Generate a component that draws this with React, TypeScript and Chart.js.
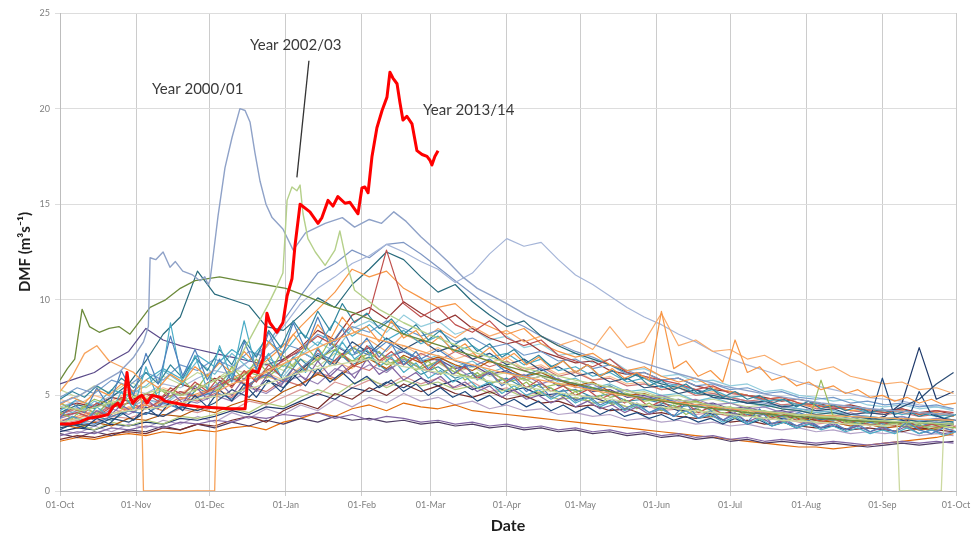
import { useEffect, useRef } from "react";
import { Chart, registerables } from "chart.js";

Chart.register(...registerables);

// ---- axis ticks ----
const MONTH_DAYS = [0, 31, 61, 92, 123, 151, 182, 212, 243, 273, 304, 335, 365];
const MONTH_LABELS = ["01-Oct", "01-Nov", "01-Dec", "01-Jan", "01-Feb", "01-Mar", "01-Apr", "01-May", "01-Jun", "01-Jul", "01-Aug", "01-Sep", "01-Oct"];
const Y_TICKS = [0, 5, 10, 15, 20, 25];

// ---- common sampling days (days since 01-Oct) ----
const WEEK_DAYS = [0, 7, 14, 21, 28, 35, 42, 49, 56, 63, 70, 77, 84, 91, 98, 105, 112, 119, 126, 133, 140, 147, 154, 161, 168, 175, 182, 189, 196, 203, 210, 217, 224, 231, 238, 245, 252, 259, 266, 273, 280, 287, 294, 301, 308, 315, 322, 329, 336, 343, 350, 357, 364];
const FIVE_DAYS = [0, 5, 10, 15, 20, 25, 30, 35, 40, 45, 50, 55, 60, 65, 70, 75, 80, 85, 90, 95, 100, 105, 110, 115, 120, 125, 130, 135, 140, 145, 150, 155, 160, 165, 170, 175, 180, 185, 190, 195, 200, 205, 210, 215, 220, 225, 230, 235, 240, 245, 250, 255, 260, 265, 270, 275, 280, 285, 290, 295, 300, 305, 310, 315, 320, 325, 330, 335, 340, 345, 350, 355, 360, 365];

// ---- highlighted years ----
const RED_DAYS = [0, 4, 8, 11.4, 16.3, 19.6, 21.6, 23.6, 24.4, 26.1, 27.3, 28.5, 29.7, 31.8, 33.4, 35.4, 37.5, 40.7, 42.8, 46.8, 50.9, 57, 63.1, 69.2, 75.4, 76.6, 78.6, 80.7, 82.7, 84.3, 85.5, 88.4, 90.8, 92.5, 94.5, 95.7, 97.8, 101.8, 105.1, 106.7, 109.2, 111.2, 113.2, 116.1, 118.1, 121.4, 123, 124.2, 125.5, 127.1, 129.1, 131.2, 133.2, 134.4, 135.6, 137.3, 138.5, 139.7, 141.3, 143.4, 145.4, 147.5, 149.5, 150.7, 151.5, 152.7, 154];
const RED_VALUES = [3.5, 3.5, 3.6, 3.8, 3.9, 4.0, 4.4, 4.6, 4.4, 4.8, 6.2, 4.9, 4.6, 4.9, 5.0, 4.6, 5.0, 4.9, 4.7, 4.6, 4.5, 4.4, 4.35, 4.3, 4.3, 6.0, 6.3, 6.2, 6.9, 9.3, 8.8, 8.3, 8.8, 10.2, 11.1, 12.8, 15.0, 14.6, 14.0, 14.3, 15.2, 14.9, 15.4, 15.05, 15.1, 14.5, 15.85, 15.9, 15.6, 17.5, 19.0, 19.9, 20.6, 21.9, 21.6, 21.3, 20.3, 19.4, 19.6, 19.2, 17.8, 17.6, 17.5, 17.3, 17.05, 17.5, 17.8];

const Y2000_DAYS = [0, 8, 16, 24, 30, 34, 36, 36.7, 39, 42, 44.8, 47, 50, 54, 57, 59, 60.3, 61.1, 62.3, 64.4, 67.2, 70.1, 73.3, 75.4, 77.4, 79.4, 81.5, 83.9, 86.4, 90.8, 95, 100, 108, 115, 120, 126, 131, 136, 141, 147, 153, 158, 164, 170, 176, 182, 190, 200, 215, 230, 250, 270, 290, 310, 330, 350, 364];
const Y2000_VALUES = [4.6, 5.0, 5.6, 6.2, 7.0, 7.8, 8.6, 12.2, 12.1, 12.5, 11.7, 12.0, 11.5, 11.3, 11.0, 11.2, 10.8, 11.0, 12.2, 14.4, 16.9, 18.5, 20.0, 19.9, 19.3, 17.7, 16.2, 15.0, 14.3, 13.7, 12.6, 13.5, 14.0, 14.3, 13.8, 14.2, 14.0, 14.6, 14.1, 13.3, 12.6, 12.0, 11.2, 10.6, 10.2, 9.8, 9.2, 8.6, 7.8, 7.0, 6.2, 5.5, 5.0, 4.6, 4.3, 4.1, 4.0];

const Y2002_DAYS = [0, 10, 20, 30, 40, 50, 60, 70, 75, 80, 85, 88, 90.8, 92.5, 94.5, 96.5, 97.8, 99, 101, 104, 108, 112, 114, 117, 120, 130, 140, 150, 170, 190, 210, 240, 270, 300, 330, 364];
const Y2002_VALUES = [4.4, 4.2, 4.6, 4.9, 5.3, 5.0, 5.6, 6.2, 7.4, 8.6, 9.8, 10.6, 11.4, 15.2, 15.9, 15.7, 16.0, 14.5, 13.2, 12.5, 11.8, 12.6, 13.6, 11.8, 10.5, 9.5, 8.8, 8.2, 7.2, 6.4, 5.8, 5.0, 4.4, 4.0, 3.7, 3.5];

const OLIVE_DAYS = [0, 3, 6, 9, 12, 16, 20, 24, 28.5, 32.6, 36.7, 43, 49, 55, 65, 73, 83, 92, 100, 110, 120, 130, 140, 150, 165, 180, 200, 220, 240, 260, 280, 300, 320, 340, 364];
const OLIVE_VALUES = [5.8, 6.4, 6.9, 9.5, 8.6, 8.3, 8.5, 8.6, 8.2, 8.9, 9.6, 10.0, 10.6, 11.0, 11.2, 11.0, 10.8, 10.6, 10.2, 9.7, 9.3, 8.8, 8.2, 7.8, 7.2, 6.6, 5.9, 5.3, 4.8, 4.4, 4.1, 3.9, 3.7, 3.6, 3.5];

const ORANGE0_DAYS = [0, 5, 10, 15, 20, 25, 30, 33, 34, 63, 64, 70, 80, 90, 100, 110, 120, 130, 140, 150, 165, 180, 200, 220, 240, 260, 280, 300, 320, 340, 364];
const ORANGE0_VALUES = [5.2, 6.0, 7.2, 7.6, 6.8, 6.5, 6.2, 5.8, 0, 0, 5.2, 5.6, 6.0, 6.6, 7.2, 7.8, 8.3, 7.9, 7.6, 7.2, 6.7, 6.2, 5.7, 5.2, 4.8, 4.5, 4.2, 4.0, 3.9, 3.8, 3.7];

const KHAKI0_DAYS = [0, 14, 28, 42, 56, 70, 84, 98, 112, 126, 140, 154, 168, 182, 196, 210, 224, 238, 252, 266, 280, 294, 308, 322, 336, 341, 342, 359, 360, 364];
const KHAKI0_VALUES = [3.6, 3.9, 4.2, 4.4, 4.8, 5.1, 5.6, 6.2, 6.6, 6.9, 6.5, 6.2, 5.9, 5.6, 5.3, 5.0, 4.8, 4.5, 4.3, 4.1, 3.9, 3.7, 3.6, 3.5, 3.4, 3.5, 0, 0, 3.3, 3.4];

// ---- other years, weekly values ----
const bg01 = [3.4, 3.6, 3.5, 3.9, 4.2, 4.0, 4.6, 4.3, 4.9, 5.2, 4.8, 5.6, 6.1, 5.7, 6.4, 7.2, 6.8, 7.5, 7.1, 7.8, 7.3, 6.9, 7.4, 6.8, 6.5, 6.9, 6.2, 6.0, 6.4, 5.8, 5.6, 5.3, 5.5, 5.0, 4.8, 4.9, 4.6, 4.4, 4.5, 4.2, 4.3, 4.0, 3.9, 4.1, 3.8, 3.7, 3.9, 3.6, 3.5, 3.7, 3.4, 3.6, 3.5];
const bg02 = [3.9, 4.1, 3.8, 4.4, 4.6, 4.3, 4.8, 5.2, 4.9, 5.4, 5.9, 5.5, 6.3, 6.8, 7.4, 8.1, 7.6, 8.8, 9.3, 12.6, 9.8, 9.1, 9.6, 8.7, 8.3, 8.9, 8.0, 7.6, 7.9, 7.1, 6.8, 6.5, 6.9, 6.2, 6.0, 5.8, 5.6, 5.3, 5.5, 5.1, 5.0, 4.8, 4.9, 4.6, 4.5, 4.3, 4.4, 4.2, 4.1, 4.3, 4.0, 4.2, 4.1];
const bg03 = [4.6, 4.2, 4.8, 4.5, 5.1, 4.8, 5.3, 5.0, 5.6, 5.2, 5.8, 6.2, 5.9, 6.6, 6.2, 6.9, 7.4, 6.8, 7.2, 6.6, 7.0, 6.4, 6.8, 6.2, 5.9, 6.3, 5.7, 5.9, 5.4, 5.6, 5.2, 5.4, 4.9, 5.1, 4.7, 4.8, 4.5, 4.7, 4.3, 4.4, 4.1, 4.2, 3.9, 4.0, 3.8, 3.9, 3.6, 3.7, 3.5, 3.6, 3.4, 3.5, 3.3];
const bg04 = [2.9, 3.1, 3.0, 3.3, 3.2, 3.4, 3.3, 3.6, 3.5, 3.7, 3.6, 3.9, 3.8, 4.0, 3.9, 4.1, 3.8, 4.0, 3.7, 3.9, 3.8, 3.6, 3.7, 3.5, 3.6, 3.4, 3.5, 3.3, 3.4, 3.2, 3.3, 3.1, 3.2, 3.0, 3.1, 2.9, 3.0, 2.8, 2.9, 2.7, 2.8, 2.6, 2.7, 2.6, 2.5, 2.6, 2.5, 2.4, 2.5, 2.6, 2.5, 2.6, 2.5];
const bg05 = [4.2, 4.8, 4.4, 5.3, 5.0, 5.8, 6.4, 5.9, 7.1, 6.5, 7.4, 6.8, 7.9, 7.2, 8.3, 7.6, 8.9, 8.1, 8.7, 7.9, 8.4, 7.7, 8.1, 7.3, 7.6, 7.0, 7.2, 6.6, 6.9, 6.3, 6.5, 6.0, 6.2, 5.7, 5.9, 5.4, 5.6, 5.1, 5.3, 4.9, 5.0, 4.7, 4.8, 4.5, 4.6, 4.3, 4.4, 4.1, 4.2, 4.0, 4.1, 3.9, 4.0];
const bg06 = [3.6, 3.8, 4.1, 3.9, 4.3, 4.5, 4.2, 4.8, 5.1, 5.4, 5.9, 6.3, 6.8, 7.6, 8.6, 9.5, 10.4, 11.6, 11.2, 11.5, 10.6, 10.1, 9.6, 9.8, 9.0, 8.6, 8.2, 8.5, 7.7, 7.3, 7.0, 7.2, 6.6, 6.3, 6.5, 6.0, 5.7, 5.9, 5.4, 5.2, 5.0, 4.8, 4.9, 4.6, 4.4, 4.5, 4.2, 4.3, 4.1, 4.2, 4.0, 4.1, 3.9];
const bg07 = [3.3, 3.5, 3.4, 3.8, 3.6, 4.1, 3.9, 4.4, 4.2, 4.6, 5.3, 4.9, 5.8, 5.4, 6.3, 7.1, 6.6, 7.8, 7.2, 8.0, 7.4, 7.9, 7.3, 7.6, 6.9, 7.2, 6.6, 6.9, 6.3, 6.5, 6.0, 6.2, 5.7, 5.9, 5.4, 5.5, 5.1, 5.3, 4.9, 4.8, 4.6, 4.7, 4.4, 4.5, 4.2, 4.3, 4.0, 4.1, 4.0, 4.4, 4.8, 5.6, 6.2];
const bg08 = [2.7, 2.9, 2.8, 3.0, 3.1, 3.0, 3.3, 3.2, 3.5, 3.4, 3.7, 3.9, 3.6, 4.2, 4.6, 4.3, 5.1, 4.8, 5.4, 5.0, 5.6, 5.2, 5.5, 5.1, 4.9, 5.2, 4.8, 5.0, 4.6, 4.7, 4.4, 4.5, 4.2, 4.3, 4.0, 4.1, 3.9, 3.8, 3.9, 3.6, 3.7, 3.5, 3.6, 3.4, 3.3, 3.4, 3.2, 3.3, 3.2, 3.1, 3.3, 3.2, 3.1];
const bg09 = [3.0, 2.8, 3.1, 2.9, 3.2, 3.1, 3.4, 3.2, 3.5, 3.3, 3.6, 3.4, 3.7, 3.5, 3.8, 3.6, 3.9, 3.7, 3.8, 3.6, 3.7, 3.5, 3.6, 3.4, 3.5, 3.3, 3.4, 3.2, 3.3, 3.1, 3.2, 3.0, 3.1, 2.9, 3.0, 2.8, 2.9, 2.7, 2.8, 2.6, 2.7, 2.5, 2.6, 2.5, 2.4, 2.5, 2.4, 2.3, 2.4, 2.5, 2.4, 2.5, 2.6];
const bg10 = [4.1, 4.5, 4.3, 4.9, 5.6, 6.8, 8.2, 9.1, 11.5, 10.3, 10.0, 9.7, 8.6, 8.4, 9.2, 10.1, 9.6, 10.8, 11.6, 12.5, 12.1, 11.2, 10.4, 10.8, 9.9, 9.2, 8.6, 8.9, 8.1, 7.6, 7.2, 6.9, 6.6, 6.2, 5.9, 5.6, 5.4, 5.1, 5.0, 4.8, 4.6, 4.5, 4.3, 4.2, 4.0, 4.1, 3.9, 3.8, 3.7, 3.8, 3.6, 3.7, 3.6];
const bg11 = [3.5, 3.3, 3.6, 3.4, 3.8, 3.7, 4.0, 3.9, 4.3, 4.1, 4.5, 4.8, 4.6, 5.2, 5.6, 6.1, 5.8, 6.5, 6.9, 6.4, 7.1, 6.7, 7.0, 6.6, 6.3, 6.8, 6.4, 6.0, 6.2, 5.8, 5.5, 5.7, 5.2, 5.0, 5.1, 4.8, 4.6, 4.7, 4.4, 4.2, 4.3, 4.0, 4.1, 3.8, 3.7, 3.6, 3.4, 3.5, 3.3, 3.4, 3.2, 3.3, 3.4];
const bg12 = [4.9, 5.4, 5.1, 5.8, 5.5, 6.2, 5.8, 6.6, 6.3, 6.9, 6.5, 7.3, 7.0, 7.7, 7.4, 8.2, 7.8, 8.6, 8.3, 8.9, 8.5, 8.1, 8.4, 7.8, 8.0, 7.5, 7.7, 7.1, 7.3, 6.8, 6.9, 6.4, 6.6, 6.1, 6.2, 5.8, 5.9, 5.5, 5.6, 5.3, 5.4, 5.1, 5.2, 4.9, 4.8, 4.9, 4.6, 4.7, 4.5, 4.6, 4.4, 4.5, 4.3];
const bg13 = [4.0, 4.3, 3.9, 4.5, 4.2, 4.6, 4.4, 4.9, 4.7, 5.1, 4.9, 5.5, 5.2, 5.8, 5.5, 6.2, 5.9, 6.6, 6.3, 7.0, 6.6, 7.2, 6.8, 7.3, 6.9, 6.5, 6.8, 6.3, 6.5, 6.0, 6.2, 5.8, 5.9, 5.5, 5.6, 5.3, 5.4, 5.0, 5.1, 4.9, 4.7, 4.8, 4.5, 4.6, 4.3, 4.4, 4.2, 4.1, 4.0, 4.1, 3.9, 4.0, 3.9];
const bg14 = [3.3, 3.5, 3.2, 3.6, 3.4, 3.7, 3.5, 3.9, 3.8, 4.0, 4.3, 4.1, 4.6, 4.4, 4.9, 5.3, 5.0, 5.6, 5.9, 5.4, 5.8, 5.5, 5.7, 5.3, 5.5, 5.1, 5.3, 4.9, 5.1, 4.8, 4.9, 4.6, 4.7, 4.4, 4.5, 4.3, 4.4, 4.1, 4.2, 4.0, 4.1, 3.8, 3.9, 3.7, 3.6, 3.7, 3.5, 3.6, 3.4, 3.5, 3.3, 3.4, 3.3];
const bg15 = [3.8, 4.1, 3.7, 4.3, 4.0, 4.5, 4.2, 4.8, 4.6, 5.0, 4.7, 5.4, 5.1, 5.7, 6.0, 5.6, 6.4, 6.1, 6.6, 6.2, 6.9, 6.4, 6.1, 6.5, 5.9, 6.2, 5.8, 6.1, 5.6, 5.9, 5.4, 5.6, 5.1, 5.3, 4.9, 5.0, 4.7, 4.8, 4.5, 4.6, 4.3, 4.4, 4.1, 4.2, 4.0, 3.9, 4.1, 3.8, 3.7, 3.9, 3.6, 3.8, 3.7];
const bg16 = [4.4, 4.0, 4.7, 4.3, 5.0, 5.5, 6.3, 5.7, 6.8, 6.1, 7.2, 6.4, 7.0, 6.5, 7.3, 6.8, 7.7, 7.1, 7.6, 7.0, 7.4, 6.8, 7.1, 6.5, 6.8, 6.2, 6.5, 5.9, 6.2, 5.7, 5.9, 5.4, 5.6, 5.2, 5.3, 5.0, 5.1, 4.7, 4.9, 4.6, 4.7, 4.4, 4.5, 4.3, 4.1, 4.2, 4.0, 3.9, 3.8, 3.9, 3.7, 3.8, 3.6];
const bg17 = [3.7, 3.9, 4.2, 4.0, 4.4, 4.3, 4.7, 4.5, 5.0, 5.3, 5.0, 5.6, 6.0, 5.7, 6.4, 7.0, 6.7, 7.5, 7.9, 7.3, 8.2, 7.8, 8.5, 8.0, 8.6, 8.1, 8.4, 7.8, 8.1, 7.6, 7.9, 7.4, 8.6, 7.5, 7.8, 9.3, 7.6, 7.9, 7.3, 7.4, 6.9, 7.1, 6.6, 6.8, 6.3, 6.5, 6.0, 5.8, 5.6, 5.7, 5.3, 5.4, 5.1];
const bg18 = [3.1, 3.3, 3.2, 3.5, 3.4, 3.6, 3.5, 3.8, 3.7, 3.9, 4.2, 4.0, 4.4, 4.3, 4.7, 5.1, 4.8, 5.4, 5.2, 5.7, 5.4, 5.9, 5.5, 5.8, 5.3, 5.6, 5.2, 5.4, 5.0, 5.1, 4.8, 4.9, 4.6, 4.7, 4.4, 4.5, 4.2, 4.3, 4.0, 4.1, 3.9, 4.0, 3.8, 3.9, 3.7, 3.8, 3.6, 3.7, 3.9, 4.6, 7.5, 4.8, 5.2];
const bg19 = [4.3, 4.6, 4.4, 4.9, 4.7, 5.1, 4.9, 5.6, 5.3, 5.9, 5.5, 6.3, 6.0, 6.9, 7.5, 8.4, 7.9, 9.2, 9.6, 9.0, 9.9, 9.3, 8.8, 9.2, 8.5, 8.0, 7.7, 7.9, 7.3, 7.0, 6.7, 6.8, 6.3, 6.1, 6.2, 5.8, 5.9, 5.5, 5.3, 5.2, 5.0, 4.9, 4.7, 4.8, 4.6, 4.4, 4.5, 4.3, 4.2, 4.3, 4.1, 4.2, 4.0];
const bg20 = [2.6, 2.8, 2.7, 2.9, 3.0, 2.9, 3.1, 3.0, 3.2, 3.1, 3.3, 3.4, 3.2, 3.6, 3.8, 4.1, 3.9, 4.3, 4.5, 4.2, 4.6, 4.4, 4.3, 4.5, 4.2, 4.1, 4.0, 3.9, 3.8, 3.7, 3.6, 3.5, 3.4, 3.3, 3.2, 3.1, 3.0, 2.9, 2.8, 2.7, 2.6, 2.5, 2.4, 2.3, 2.3, 2.2, 2.3, 2.4, 2.5, 2.6, 2.7, 2.8, 3.0];
const bg21 = [3.6, 3.4, 3.9, 3.7, 4.2, 4.0, 4.7, 4.3, 5.4, 4.9, 6.2, 5.3, 7.0, 5.8, 6.9, 6.1, 7.4, 6.6, 7.0, 6.3, 6.8, 6.1, 6.5, 5.9, 6.2, 5.6, 5.9, 5.4, 5.6, 5.2, 5.3, 4.9, 5.1, 4.7, 4.8, 4.6, 4.4, 4.5, 4.2, 4.3, 4.0, 4.1, 3.9, 3.8, 3.7, 3.8, 3.6, 3.5, 3.4, 3.5, 3.3, 3.4, 3.3];
const bg22 = [3.5, 3.7, 3.6, 3.9, 3.8, 4.1, 3.9, 4.3, 4.1, 4.4, 4.2, 4.7, 4.5, 4.9, 5.3, 5.0, 5.7, 5.4, 5.8, 5.5, 6.0, 5.6, 5.9, 5.4, 5.7, 5.2, 5.4, 5.0, 5.2, 4.8, 4.9, 4.6, 4.7, 4.4, 4.5, 4.2, 4.3, 4.0, 4.1, 3.9, 4.0, 3.7, 3.8, 3.6, 3.5, 3.6, 3.4, 3.5, 3.3, 3.4, 3.2, 3.3, 3.2];
const bg23 = [5.3, 4.9, 5.5, 5.1, 5.7, 5.4, 6.0, 5.6, 6.2, 5.8, 6.4, 6.1, 6.7, 6.3, 6.9, 6.5, 7.2, 6.8, 7.0, 6.6, 6.9, 6.4, 6.7, 6.2, 6.5, 6.0, 6.2, 5.8, 6.0, 5.6, 5.7, 5.3, 5.5, 5.1, 5.2, 4.9, 5.0, 4.7, 4.8, 4.6, 4.4, 4.5, 4.3, 4.2, 4.1, 4.0, 3.9, 3.8, 3.7, 3.8, 3.6, 3.7, 3.5];
const bg24 = [3.2, 3.0, 3.4, 3.1, 3.5, 3.3, 3.7, 3.5, 3.9, 3.6, 4.1, 3.8, 4.3, 4.0, 4.5, 4.2, 4.8, 4.4, 4.9, 4.6, 5.1, 4.7, 4.9, 4.5, 4.7, 4.3, 4.5, 4.2, 4.3, 4.0, 4.1, 3.9, 4.0, 3.7, 3.8, 3.6, 3.7, 3.5, 3.6, 3.4, 3.5, 3.3, 3.2, 3.3, 3.1, 3.2, 3.0, 3.1, 3.0, 3.1, 2.9, 3.0, 2.9];
const bg25 = [4.0, 4.4, 4.1, 4.6, 4.3, 4.8, 4.5, 5.1, 4.9, 5.3, 5.8, 5.5, 6.4, 6.0, 7.1, 7.8, 7.3, 8.5, 8.9, 8.3, 9.2, 8.6, 8.9, 8.2, 8.5, 7.9, 8.1, 7.5, 7.7, 7.1, 7.2, 6.7, 6.9, 6.3, 6.4, 6.0, 6.1, 5.7, 5.8, 5.5, 5.6, 5.2, 5.3, 5.0, 4.9, 4.7, 4.8, 4.5, 4.4, 4.5, 4.3, 4.4, 4.2];
const bg26 = [4.8, 4.5, 5.0, 4.7, 5.2, 4.9, 5.4, 5.1, 5.6, 5.3, 5.9, 5.6, 6.2, 5.8, 6.5, 6.1, 6.8, 6.4, 7.3, 6.8, 7.6, 7.1, 7.5, 6.9, 7.2, 6.7, 7.0, 6.4, 6.6, 6.1, 6.3, 5.8, 6.0, 5.6, 5.7, 5.3, 5.5, 5.1, 5.2, 4.9, 5.0, 4.7, 4.8, 4.5, 4.4, 4.5, 4.2, 4.3, 4.1, 4.2, 4.0, 4.1, 3.9];
const bg27 = [5.6, 5.9, 6.2, 6.8, 7.3, 8.5, 7.9, 7.6, 7.4, 7.2, 7.0, 6.8, 6.6, 6.9, 7.3, 6.8, 7.6, 7.1, 7.5, 7.0, 7.3, 6.8, 6.9, 6.4, 6.6, 6.1, 6.3, 5.8, 6.0, 5.5, 5.6, 5.2, 5.3, 4.9, 5.0, 4.7, 4.8, 4.5, 4.6, 4.3, 4.4, 4.1, 4.2, 4.0, 3.9, 3.8, 3.7, 3.6, 3.6, 3.5, 3.4, 3.5, 3.4];
const bg28 = [4.4, 4.7, 4.5, 5.0, 5.3, 5.1, 5.6, 5.4, 5.9, 6.3, 6.1, 6.8, 7.5, 8.6, 9.8, 10.6, 11.2, 11.9, 12.3, 12.9, 12.5, 12.0, 11.6, 10.9, 11.4, 12.4, 13.2, 12.8, 13.0, 12.1, 11.3, 10.8, 10.2, 9.6, 9.1, 8.7, 8.2, 7.8, 7.3, 6.9, 6.6, 6.3, 6.0, 5.7, 5.5, 5.3, 5.1, 4.9, 4.8, 4.7, 4.5, 4.4, 4.3];
const bg29 = [3.9, 4.2, 4.0, 4.5, 4.3, 4.8, 4.6, 5.2, 5.0, 5.5, 6.2, 6.8, 7.6, 8.9, 10.2, 11.4, 11.9, 12.6, 12.2, 12.9, 13.0, 12.4, 11.7, 11.0, 10.3, 9.6, 9.0, 8.6, 8.1, 7.7, 7.3, 7.0, 6.6, 6.3, 6.0, 5.7, 5.5, 5.3, 5.1, 4.9, 4.7, 4.6, 4.4, 4.3, 4.2, 4.1, 4.0, 3.9, 3.8, 3.7, 3.7, 3.6, 3.5];

// ---- other years, 5-day values (more jagged records) ----
const jg01 = [3.8, 4.6, 4.1, 5.4, 4.4, 6.3, 5.0, 7.2, 5.6, 8.1, 6.0, 7.4, 5.8, 6.9, 5.7, 7.8, 6.4, 8.3, 6.9, 8.8, 7.4, 9.1, 7.6, 8.5, 7.2, 8.0, 7.0, 7.7, 6.6, 7.3, 6.4, 6.9, 6.1, 6.6, 5.8, 6.2, 5.5, 5.9, 5.2, 5.6, 4.9, 5.3, 4.7, 5.0, 4.5, 4.8, 4.3, 4.6, 4.1, 4.4, 3.9, 4.6, 3.8, 4.2, 3.7, 4.0, 3.6, 4.3, 3.5, 3.8, 3.4, 3.7, 3.3, 3.6, 3.2, 3.5, 3.1, 3.4, 3.1, 3.6, 3.2, 3.0, 3.3, 3.1];
const jg02 = [4.5, 4.9, 4.6, 5.3, 5.0, 5.6, 5.2, 5.8, 5.4, 6.1, 5.7, 6.5, 6.0, 6.7, 6.2, 7.3, 6.6, 7.8, 7.1, 8.2, 7.4, 8.7, 7.9, 9.1, 8.3, 8.6, 7.8, 8.9, 8.0, 8.4, 7.6, 8.1, 7.3, 7.7, 7.0, 7.5, 6.8, 7.2, 6.6, 7.0, 6.4, 6.8, 6.2, 6.6, 6.0, 6.4, 5.9, 6.2, 5.8, 9.4, 6.4, 6.8, 6.0, 6.3, 5.7, 7.9, 6.2, 6.5, 5.8, 6.0, 5.5, 5.7, 5.3, 5.5, 5.1, 5.3, 4.9, 5.0, 4.7, 4.9, 4.6, 4.8, 4.5, 4.6];
const jg03 = [3.4, 3.9, 3.6, 4.4, 3.9, 5.2, 4.3, 6.5, 4.8, 8.8, 5.5, 7.1, 5.3, 7.6, 5.9, 8.9, 6.3, 7.2, 6.0, 7.0, 6.2, 7.5, 6.6, 7.8, 6.9, 7.4, 6.5, 7.0, 6.2, 6.7, 5.9, 6.3, 5.7, 6.0, 5.4, 5.7, 5.1, 5.5, 5.0, 5.3, 4.8, 5.1, 4.6, 4.9, 4.4, 4.7, 4.2, 4.5, 4.1, 4.3, 3.9, 4.2, 3.8, 4.0, 3.6, 3.9, 3.5, 3.8, 3.4, 3.6, 3.3, 3.5, 3.2, 3.4, 3.1, 3.3, 3.0, 3.2, 3.0, 3.3, 3.0, 3.2, 2.9, 3.1];
const jg04 = [3.6, 3.9, 3.7, 4.2, 3.9, 4.5, 4.1, 4.8, 4.3, 5.2, 4.6, 5.5, 4.8, 5.7, 5.0, 5.9, 5.2, 6.2, 5.5, 6.4, 5.8, 6.8, 6.0, 6.6, 5.9, 6.9, 6.1, 6.5, 5.8, 6.2, 5.6, 6.0, 5.4, 5.7, 5.2, 5.5, 4.9, 5.3, 4.8, 5.0, 4.6, 4.9, 4.4, 4.7, 4.3, 4.5, 4.1, 4.4, 4.0, 4.3, 3.9, 4.2, 3.8, 4.0, 3.7, 4.1, 3.6, 3.9, 3.5, 3.7, 3.4, 3.6, 3.3, 3.5, 3.2, 3.4, 3.1, 3.3, 3.1, 3.4, 3.0, 3.2, 3.0, 3.1];
const jg05 = [4.1, 3.8, 4.4, 4.0, 4.7, 4.3, 5.0, 4.6, 5.4, 4.9, 5.8, 5.2, 6.1, 5.5, 6.5, 5.8, 6.9, 6.1, 7.2, 6.5, 7.6, 6.8, 7.9, 7.0, 7.5, 6.8, 7.3, 6.6, 7.0, 6.3, 6.8, 6.1, 6.5, 5.8, 6.2, 5.6, 5.9, 5.3, 5.7, 5.1, 5.4, 4.9, 5.2, 4.7, 5.0, 4.5, 4.8, 4.3, 4.6, 4.2, 4.5, 4.0, 4.3, 3.9, 4.1, 3.8, 4.2, 3.7, 4.0, 3.6, 3.9, 3.6, 5.8, 3.9, 3.6, 3.5, 3.7, 3.4, 3.6, 3.3, 3.5, 3.2, 3.4, 3.3];
const jg06 = [3.2, 3.5, 3.3, 3.8, 3.5, 4.1, 3.7, 4.4, 3.9, 4.7, 4.2, 5.0, 4.4, 5.3, 4.7, 5.6, 4.9, 5.8, 5.2, 6.1, 5.5, 6.4, 5.7, 6.2, 5.6, 6.0, 5.4, 5.8, 5.2, 5.6, 5.0, 5.4, 4.9, 5.2, 4.7, 5.0, 4.5, 4.8, 4.4, 4.7, 4.2, 4.5, 4.1, 4.4, 4.0, 4.3, 3.9, 4.1, 3.8, 4.0, 3.7, 3.9, 3.6, 3.8, 3.5, 3.8, 3.5, 3.7, 3.4, 3.6, 3.3, 3.5, 3.3, 3.4, 3.2, 3.4, 3.8, 5.9, 3.9, 3.6, 5.2, 4.0, 3.8, 3.7];
const jg07 = [4.0, 4.3, 4.1, 4.6, 4.3, 4.9, 4.5, 5.1, 4.7, 5.4, 5.0, 5.7, 5.2, 6.0, 5.4, 6.3, 5.7, 6.6, 6.0, 7.0, 6.3, 7.4, 6.6, 7.2, 6.5, 7.6, 6.8, 7.3, 6.6, 7.0, 6.3, 6.8, 6.1, 6.5, 5.9, 6.2, 5.6, 6.0, 5.4, 5.8, 5.2, 5.5, 5.0, 5.3, 4.8, 5.1, 4.6, 4.9, 4.4, 4.7, 4.3, 4.6, 4.1, 4.4, 4.0, 4.3, 3.9, 4.2, 3.8, 4.0, 3.7, 3.9, 3.6, 3.8, 3.5, 3.7, 3.4, 3.6, 3.4, 3.7, 3.3, 3.5, 3.3, 3.4];
const jg08 = [4.8, 5.2, 4.9, 5.5, 5.1, 5.9, 5.4, 6.2, 5.6, 6.6, 5.9, 7.0, 6.3, 7.4, 6.6, 7.9, 7.0, 8.4, 7.5, 8.9, 8.0, 9.4, 8.4, 9.8, 8.8, 9.3, 8.5, 9.0, 8.2, 8.7, 7.9, 8.4, 7.6, 8.0, 7.3, 7.7, 7.0, 7.4, 6.7, 7.1, 6.5, 6.8, 6.2, 6.6, 6.0, 6.3, 5.8, 6.1, 5.5, 5.8, 5.3, 5.6, 5.1, 5.4, 4.9, 5.2, 4.8, 5.0, 4.6, 4.8, 4.4, 4.7, 4.3, 4.5, 4.2, 4.4, 4.1, 4.3, 4.0, 4.2, 3.9, 4.1, 3.8, 4.0];

const BG_SERIES = [bg01, bg02, bg03, bg04, bg05, bg06, bg07, bg08, bg09, bg10, bg11, bg12, bg13, bg14, bg15, bg16, bg17, bg18, bg19, bg20, bg21, bg22, bg23, bg24, bg25, bg26, bg27, bg28, bg29];
const BG_COLORS = ["#4F81BD", "#C0504D", "#9BBB59", "#8064A2", "#4BACC6", "#F79646", "#2C4D75", "#772C2A", "#4D3B62", "#276A7C", "#B65708", "#729ACA", "#CD7371", "#AFC97A", "#9983B5", "#6FBDD1", "#F9AB6B", "#1F3A6B", "#943634", "#E46C0A", "#3C8DA3", "#D99694", "#C3D69B", "#B3A2C7", "#93CDDD", "#FAC090", "#5B4B8A", "#A5B5D8", "#7F97C4"];
const JG_SERIES = [jg01, jg02, jg03, jg04, jg05, jg06, jg07, jg08];
const JG_COLORS = ["#4F81BD", "#F79646", "#4BACC6", "#8064A2", "#9BBB59", "#1F497D", "#C0504D", "#31859C"];

// ---- annotations (data coordinates) ----
const ANNOTATIONS = [
  { text: "Year 2000/01", day: 37.5, value: 21.0 },
  { text: "Year 2002/03", day: 77.4, value: 23.3 },
  { text: "Year 2013/14", day: 147.9, value: 19.9 },
];
const POINTER = { fromDay: 101.4, fromValue: 22.5, toDay: 96.5, toValue: 16.4 };

const pts = (days: number[], vals: number[]) => days.map((d, i) => ({ x: d, y: vals[i] }));

export default function App() {
  const ref = useRef<HTMLCanvasElement>(null);

  useEffect(() => {
    if (!ref.current) return;
    const datasets: any[] = [
      { label: "2013/14", data: pts(RED_DAYS, RED_VALUES), borderColor: "#FF0000", borderWidth: 3 },
      { label: "2002/03", data: pts(Y2002_DAYS, Y2002_VALUES), borderColor: "#B5D08A", borderWidth: 1.4 },
      { label: "2000/01", data: pts(Y2000_DAYS, Y2000_VALUES), borderColor: "#8FA2C8", borderWidth: 1.4 },
      { label: "olive", data: pts(OLIVE_DAYS, OLIVE_VALUES), borderColor: "#6B8A3A", borderWidth: 1.3 },
      { label: "orange0", data: pts(ORANGE0_DAYS, ORANGE0_VALUES), borderColor: "#F7A35C", borderWidth: 1.3 },
      { label: "khaki0", data: pts(KHAKI0_DAYS, KHAKI0_VALUES), borderColor: "#CCD9A0", borderWidth: 1.3 },
      ...JG_SERIES.map((v, i) => ({
        label: "j" + i,
        data: pts(FIVE_DAYS, v),
        borderColor: JG_COLORS[i],
        borderWidth: 1.2,
      })),
      ...BG_SERIES.map((v, i) => ({
        label: "s" + i,
        data: pts(WEEK_DAYS, v),
        borderColor: BG_COLORS[i],
        borderWidth: 1.2,
      })),
    ];

    const annot = {
      id: "annot",
      afterDatasetsDraw(chart: any) {
        const { ctx, scales } = chart;
        const xs = scales.x;
        const ys = scales.y;
        ctx.save();
        ctx.font = "15px Lato";
        ctx.fillStyle = "#3a3a3a";
        ctx.textAlign = "left";
        ctx.textBaseline = "middle";
        ANNOTATIONS.forEach((a) => {
          ctx.fillText(a.text, xs.getPixelForValue(a.day), ys.getPixelForValue(a.value));
        });
        ctx.strokeStyle = "#333333";
        ctx.lineWidth = 1.3;
        ctx.beginPath();
        ctx.moveTo(xs.getPixelForValue(POINTER.fromDay), ys.getPixelForValue(POINTER.fromValue));
        ctx.lineTo(xs.getPixelForValue(POINTER.toDay), ys.getPixelForValue(POINTER.toValue));
        ctx.stroke();
        ctx.restore();
      },
    };

    const chart = new Chart(ref.current, {
      type: "line",
      data: { datasets },
      plugins: [annot],
      options: {
        animation: false,
        responsive: false,
        layout: { padding: { top: 13, right: 20, left: 0, bottom: 0 } },
        plugins: { legend: { display: false }, tooltip: { enabled: false } },
        elements: { point: { radius: 0 }, line: { tension: 0, borderJoinStyle: "round", fill: false } },
        scales: {
          x: {
            type: "linear",
            min: 0,
            max: 365,
            afterBuildTicks: (s: any) => {
              s.ticks = MONTH_DAYS.map((v) => ({ value: v }));
            },
            afterFit: (s: any) => {
              s.height = 44;
            },
            ticks: {
              autoSkip: false,
              maxRotation: 0,
              padding: 4,
              color: "#808080",
              font: { family: "Lato", size: 9 },
              callback: (_v: any, i: number) => MONTH_LABELS[i],
            },
            grid: { color: "#cccccc", tickLength: 5 },
            border: { color: "#bdbdbd" },
            title: {
              display: true,
              text: "Date",
              color: "#1e1e1e",
              font: { family: "Lato", size: 16, weight: "bold" },
              padding: { top: 0, bottom: 0 },
            },
          },
          y: {
            min: 0,
            max: 25,
            afterBuildTicks: (s: any) => {
              s.ticks = Y_TICKS.map((v) => ({ value: v }));
            },
            afterFit: (s: any) => {
              s.width = 60;
            },
            ticks: {
              padding: 5,
              color: "#808080",
              font: { family: "Lato", size: 9 },
            },
            grid: { color: "#dddddd", tickLength: 5 },
            border: { color: "#bdbdbd" },
            title: {
              display: true,
              text: "DMF (m³s⁻¹)",
              color: "#1e1e1e",
              font: { family: "Lato", size: 15, weight: "bold" },
              padding: { top: 16, bottom: 0 },
            },
          },
        },
      } as any,
    });
    return () => chart.destroy();
  }, []);

  return (
    <div style={{ position: "absolute", left: 0, top: 0, width: 976, height: 535, background: "#ffffff" }}>
      <canvas ref={ref} width={976} height={535} style={{ display: "block" }} />
    </div>
  );
}
